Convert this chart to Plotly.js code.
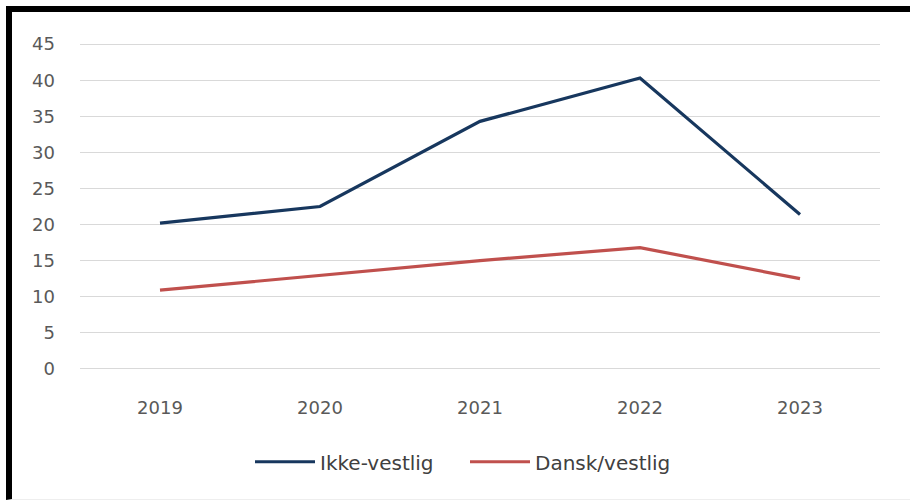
<!DOCTYPE html>
<html>
<head>
<meta charset="utf-8">
<script src="https://cdn.plot.ly/plotly-3.0.1.min.js"></script>
<style>
  html, body { margin: 0; padding: 0; background: #fff; overflow: hidden; }
  #wrap { position: relative; width: 910px; height: 503px; overflow: hidden; }
  #chart { position: absolute; left: 0; top: 0; width: 910px; height: 503px; }
  #frame { position: absolute; left: 6px; top: 6px; box-sizing: border-box; width: 904px; height: 494px;
           border-left: 6px solid #000; border-top: 6px solid #000;
           border-bottom: 1px solid #eeeeee;
           pointer-events: none; }
</style>
</head>
<body>
<div id="wrap">
  <div id="chart"></div>
  <div id="frame"></div>
</div>
<script>
const years = ["2019", "2020", "2021", "2022", "2023"];
const ikkeVestlig = [20.2, 22.5, 34.3, 40.3, 21.4];
const danskVestlig = [10.9, 13.0, 15.0, 16.8, 12.5];
const seriesNames = ["Ikke-vestlig", "Dansk/vestlig"];
const yTicks = [0, 5, 10, 15, 20, 25, 30, 35, 40, 45];

const traces = [
  { x: years, y: ikkeVestlig, name: seriesNames[0], type: "scatter", mode: "lines",
    line: { color: "#17375E", width: 3.2 } },
  { x: years, y: danskVestlig, name: seriesNames[1], type: "scatter", mode: "lines",
    line: { color: "#C0504D", width: 3.2 } }
];

const layout = {
  width: 910, height: 503,
  margin: { l: 80, r: 30, t: 42, b: 132 },
  paper_bgcolor: "#ffffff", plot_bgcolor: "#ffffff",
  font: { family: "DejaVu Sans, sans-serif", color: "#595959" },
  showlegend: true,
  xaxis: {
    type: "category", range: [-0.5, 4.5],
    showgrid: false, zeroline: false, showline: false, ticks: "",
    tickfont: { size: 18, color: "#595959" },
    ticklabelstandoff: 24
  },
  yaxis: {
    range: [-0.3, 45.3], tickvals: yTicks, ticktext: yTicks.map(String),
    showgrid: true, gridcolor: "#d9d9d9", gridwidth: 1,
    zeroline: false, showline: false, ticks: "",
    tickfont: { size: 18, color: "#595959" },
    ticklabelstandoff: 24
  },
  legend: {
    orientation: "h", xref: "container", yref: "container",
    x: 250 / 910, xanchor: "left", y: 0.082, yanchor: "middle",
    font: { size: 20, color: "#404040" },
    itemwidth: 60, entrywidth: 140,
    bgcolor: "rgba(0,0,0,0)"
  }
};

Plotly.newPlot("chart", traces, layout, { staticPlot: true, displayModeBar: false });
</script>
</body>
</html>
